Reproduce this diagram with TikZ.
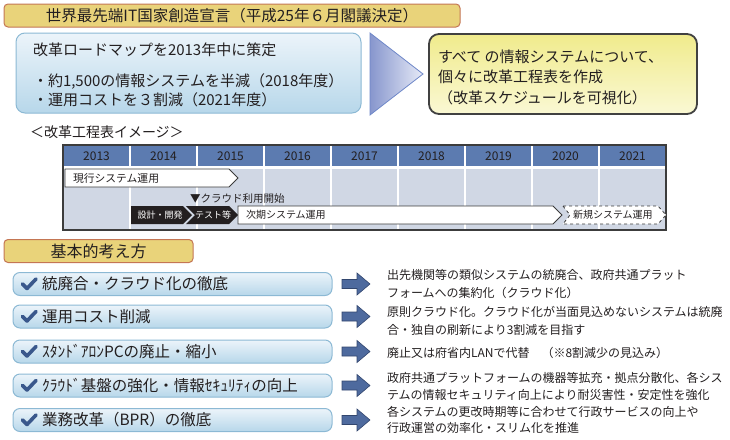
\documentclass[tikz,border=0pt]{standalone}
\usepackage{fontspec}
\setmainfont{Noto Sans CJK JP}
\newcommand\fz[1]{\fontsize{#1}{#1}\selectfont}
\newcommand\fzz[2]{\fontsize{#1}{#2}\selectfont}
\definecolor{gold}{RGB}{233,211,122}
\definecolor{goldedge}{RGB}{196,118,84}
\definecolor{bluetop}{RGB}{236,244,250}
\definecolor{bluebot}{RGB}{183,215,234}
\definecolor{blueedge}{RGB}{140,185,212}
\definecolor{tril}{RGB}{135,150,205}
\definecolor{trir}{RGB}{230,234,247}
\definecolor{triedge}{RGB}{110,135,200}
\definecolor{yelA}{RGB}{240,235,140}
\definecolor{yelB}{RGB}{250,248,212}
\definecolor{yeledge}{RGB}{65,65,65}
\definecolor{tlhead}{RGB}{92,123,176}
\definecolor{tlbody}{RGB}{208,215,228}
\definecolor{tledge}{RGB}{60,60,60}
\definecolor{ink}{RGB}{35,31,32}
\definecolor{chk}{RGB}{58,88,140}
\definecolor{arr}{RGB}{78,106,158}
\definecolor{arredge}{RGB}{50,70,110}
\tikzset{
  goldbox/.style={draw=goldedge, line width=1pt, fill=gold, rounded corners=4pt},
  bluebox/.style={draw=blueedge, line width=1pt, top color=bluetop, bottom color=bluebot, rounded corners=7pt},
  barrow/.style={draw=tledge, line width=0.8pt, fill=white},
  blk/.style={fill=ink},
  blockarr/.style={draw=arredge, fill=arr, line width=0.6pt},
  checkmark/.style={draw=chk, line width=3.6pt, line cap=round, line join=round},
}
\begin{document}
\begin{tikzpicture}[x=1pt,y=-1pt,every node/.style={inner sep=0pt,outer sep=0pt,text=ink}]
\useasboundingbox (0,0) rectangle (730,439);

% top header
\node[goldbox, minimum width=456, minimum height=23] (hdr) at (232,15.5) {\fz{15.5}世界最先端IT国家創造宣言（平成25年６月閣議決定）};

% roadmap box
\node[bluebox, rounded corners=9pt, minimum width=345, minimum height=80] (road) at (188.5,73) {};
\node[anchor=west] (road1) at (33,50) {\fz{15}改革ロードマップを2013年中に策定};
\node[anchor=west] (road2) at (33,82) {\fz{15}・約1,500の情報システムを半減（2018年度）};
\node[anchor=west] (road3) at (33,100) {\fz{15}・運用コストを３割減（2021年度）};

% big triangle
\path[draw=triedge, line width=0.8pt, left color=tril, right color=trir] (370,33) -- (423,74) -- (370,115) -- cycle;

% yellow box
\node[draw=yeledge, line width=1.8pt, rounded corners=10pt, top color=yelA, bottom color=yelB, minimum width=268, minimum height=80] (plan) at (563,74) {};
\node[anchor=west, align=left, font=\fzz{15}{20.5}] (plantxt) at (438,77) {すべて の情報システムについて、\\個々に改革工程表を作成\\（改革スケジュールを可視化）};

% timeline title
\node[anchor=west] (tltitle) at (30,132) {\fz{14}＜改革工程表イメージ＞};

% timeline grid
\fill[tlbody] (63,145) rectangle (666,230);
\fill[tlhead] (63,145) rectangle (666,166);
\fill[white] (63,166) rectangle (666,168.5);
\foreach \k in {1,...,8} \draw[white, line width=1.5pt] (63+67*\k,145) -- (63+67*\k,230);
\draw[tledge, line width=1.2pt] (63,145) rectangle (666,230);
\foreach \yr [count=\k from 0] in {2013,2014,2015,2016,2017,2018,2019,2020,2021}
  \node (yr\yr) at (96.5+67*\k,156) {\fz{12}\yr};

% row 1
\path[barrow] (65,169) -- (229,169) -- (238,178) -- (229,187) -- (65,187) -- cycle;
\node[anchor=west] (cur) at (73,178) {\fz{10.8}現行システム運用};
\node[anchor=west] (cloud) at (190,198.5) {\fz{10.5}▼クラウド利用開始};

% row 2
\path[blk] (131,206) -- (183,206) -- (192,215) -- (183,224) -- (131,224) -- cycle;
\node (design) at (160,215) {\fz{9}\color{white}設計・開発};
\path[blk] (186,206) -- (229,206) -- (238,215) -- (229,224) -- (186,224) -- (195,215) -- cycle;
\node (test) at (213,215) {\fz{9}\color{white}テスト等};
\path[barrow] (238,206) -- (553,206) -- (562,215) -- (553,224) -- (238,224) -- cycle;
\node[anchor=west] (next) at (246,215) {\fz{10}次期システム運用};
\path[barrow, dashed] (563,206) -- (658,206) -- (666,215) -- (658,224) -- (563,224) -- (570,215) -- cycle;
\node[anchor=west] (new) at (573,215) {\fz{10}新規システム運用};

% basic idea header
\node[goldbox, minimum width=189, minimum height=23] (basic) at (98.5,251) {\fz{16}基本的考え方};

% list
\foreach \yc/\t/\nm in {284/統廃合・クラウド化の徹底/a, 316.5/運用コスト削減/b, 351.5/ｽﾀﾝﾄﾞｱﾛﾝPCの廃止・縮小/c, 385.5/ｸﾗｳﾄﾞ基盤の強化・情報ｾｷｭﾘﾃｨの向上/d, 420/業務改革（BPR）の徹底/e}{
  \node[bluebox, minimum width=319, minimum height=23] (box\nm) at (172.5,\yc) {};
  \path[checkmark] (22.5,\yc) -- (27,\yc+4.5) -- (36,\yc-5);
  \node[anchor=west] (lbl\nm) at (42,\yc) {\fz{15.5}\t};
  \path[blockarr] (342,\yc-4.5) -- (357,\yc-4.5) -- (357,\yc-11) -- (370,\yc) -- (357,\yc+11) -- (357,\yc+4.5) -- (342,\yc+4.5) -- cycle;
}

% descriptions
\node[anchor=west, align=left, font=\fzz{12}{17.5}] (desca) at (387,284) {出先機関等の類似システムの統廃合、政府共通プラット\\フォームへの集約化（クラウド化）};
\node[anchor=west, align=left, font=\fzz{12}{17.5}] (descb) at (387,321) {原則クラウド化。クラウド化が当面見込めないシステムは統廃\\合・独自の刷新により3割減を目指す};
\node[anchor=west, align=left, font=\fzz{12}{17.5}] (descc) at (387,353) {廃止又は府省内LANで代替　（※8割減少の見込み）};
\node[anchor=west, align=left, font=\fzz{12}{17}] (descd) at (387,386.5) {政府共通プラットフォームの機器等拡充・拠点分散化、各シス\\テムの情報セキュリティ向上により耐災害性・安定性を強化};
\node[anchor=west, align=left, font=\fzz{12}{16.5}] (desce) at (387,420) {各システムの更改時期等に合わせて行政サービスの向上や\\行政運営の効率化・スリム化を推進};
\end{tikzpicture}
\end{document}
